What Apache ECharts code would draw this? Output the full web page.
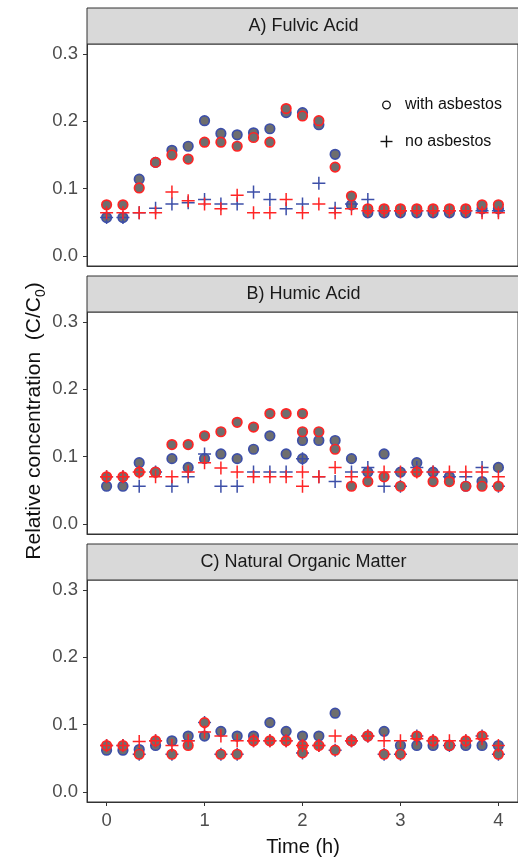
<!DOCTYPE html>
<html>
<head>
<meta charset="utf-8">
<script src="https://cdn.jsdelivr.net/npm/echarts@6/dist/echarts.min.js"></script>
<style>
  html, body { margin: 0; padding: 0; background: #fff; }
  #chart { width: 518px; height: 858px; }
</style>
</head>
<body>
<div id="chart"></div>
<script>
  // sampling times (h), every 10 min
  const times = [0, 0.167, 0.333, 0.5, 0.667, 0.833, 1, 1.167, 1.333, 1.5, 1.667, 1.833, 2,
    2.167, 2.333, 2.5, 2.667, 2.833, 3, 3.167, 3.333, 3.5, 3.667, 3.833, 4]
  const yTicks = [0, 0.1, 0.2, 0.3]
  const xTicks = [0, 1, 2, 3, 4]
  const panelTitles = ['A) Fulvic Acid', 'B) Humic Acid', 'C) Natural Organic Matter']

  // A) Fulvic acid
  const fulvicWithRed = [0.076, 0.076, 0.101, 0.139, 0.150, 0.144, 0.169, 0.169, 0.163, 0.176, 0.169, 0.219, 0.208,
    0.201, 0.132, 0.089, 0.070, 0.070, 0.070, 0.070, 0.070, 0.070, 0.070, 0.076, 0.076]
  const fulvicWithBlue = [0.057, 0.057, 0.114, 0.139, 0.157, 0.163, 0.201, 0.182, 0.180, 0.183, 0.189, 0.213, 0.213,
    0.195, 0.151, 0.076, 0.064, 0.064, 0.064, 0.064, 0.064, 0.064, 0.064, 0.070, 0.070]
  const fulvicNoRed = [0.064, 0.064, 0.064, 0.064, 0.095, 0.082, 0.077, 0.070, 0.090, 0.064, 0.064, 0.084, 0.064,
    0.077, 0.064, 0.070, 0.067, 0.067, 0.067, 0.067, 0.067, 0.067, 0.067, 0.064, 0.064]
  const fulvicNoBlue = [0.057, 0.057, 0.064, 0.071, 0.077, 0.079, 0.084, 0.077, 0.077, 0.095, 0.084, 0.070, 0.077,
    0.108, 0.071, 0.077, 0.084, 0.067, 0.067, 0.067, 0.067, 0.067, 0.067, 0.067, 0.067]

  // B) Humic acid
  const humicWithRed = [0.070, 0.070, 0.077, 0.077, 0.118, 0.118, 0.131, 0.137, 0.151, 0.144, 0.164, 0.164, 0.164,
    0.137, 0.111, 0.056, 0.063, 0.070, 0.056, 0.077, 0.063, 0.063, 0.056, 0.056, 0.056]
  const humicWithBlue = [0.056, 0.056, 0.091, 0.077, 0.097, 0.084, 0.097, 0.104, 0.097, 0.111, 0.131, 0.104, 0.124,
    0.124, 0.124, 0.097, 0.077, 0.104, 0.077, 0.091, 0.077, 0.070, 0.056, 0.063, 0.084]
  const humicNoRed = [0.070, 0.070, 0.077, 0.070, 0.070, 0.077, 0.091, 0.083, 0.077, 0.070, 0.070, 0.070, 0.077,
    0.070, 0.084, 0.070, 0.077, 0.077, 0.077, 0.077, 0.077, 0.077, 0.077, 0.077, 0.070]
  const humicNoBlue = [0.070, 0.070, 0.056, 0.077, 0.056, 0.070, 0.104, 0.056, 0.056, 0.077, 0.077, 0.077, 0.097,
    0.070, 0.063, 0.077, 0.084, 0.056, 0.056, 0.084, 0.077, 0.070, 0.070, 0.084, 0.056]
  // second reading at t = 2 h
  const humicExtraWithRed = [[2, 0.137]]
  const humicExtraWithBlue = [[2, 0.097]]
  const humicExtraNoRed = [[2, 0.056]]

  // C) Natural organic matter
  const nomWithRed = [0.069, 0.069, 0.056, 0.076, 0.056, 0.069, 0.103, 0.056, 0.056, 0.076, 0.076, 0.076, 0.069,
    0.069, 0.062, 0.076, 0.083, 0.056, 0.056, 0.083, 0.076, 0.069, 0.076, 0.083, 0.056]
  const nomWithBlue = [0.062, 0.062, 0.063, 0.069, 0.076, 0.083, 0.083, 0.090, 0.083, 0.083, 0.103, 0.090, 0.083,
    0.083, 0.117, 0.076, 0.083, 0.090, 0.069, 0.069, 0.069, 0.069, 0.069, 0.069, 0.069]
  const nomNoRed = [0.069, 0.069, 0.075, 0.076, 0.069, 0.076, 0.089, 0.083, 0.076, 0.076, 0.076, 0.076, 0.069,
    0.069, 0.083, 0.076, 0.083, 0.076, 0.076, 0.079, 0.076, 0.076, 0.076, 0.079, 0.069]
  const nomNoBlue = [0.069, 0.069, 0.056, 0.076, 0.056, 0.076, 0.103, 0.056, 0.056, 0.076, 0.076, 0.076, 0.058,
    0.069, 0.062, 0.076, 0.083, 0.056, 0.056, 0.083, 0.076, 0.069, 0.076, 0.083, 0.056]
  const nomExtraWithRed = [[2, 0.058]]

  const RED = '#ff2424'
  const BLUE = '#3d4fa8'
  const FILL = '#6e6e6e'
  const FONT = 'Liberation Sans, Arial, sans-serif'
  const CROSS = 'path://M0,-1L0,1M-1,0L1,0'

  // panel tops (plot area) and strip boxes
  const gridTops = [44, 312, 580]
  const gridH = 222
  const stripH = 36
  const gridLeft = 87
  const gridW = 433

  function pts(vals, extra) {
    const d = times.map((t, i) => [t, vals[i]])
    return extra ? d.concat(extra) : d
  }

  function circleSeries(idx, data, color) {
    return {
      type: 'scatter', xAxisIndex: idx, yAxisIndex: idx,
      symbol: 'circle', symbolSize: 9.5,
      itemStyle: { color: FILL, borderColor: color, borderWidth: 1.7, opacity: 1 },
      data: data
    }
  }
  function crossSeries(idx, data, color) {
    return {
      type: 'scatter', xAxisIndex: idx, yAxisIndex: idx,
      symbol: CROSS, symbolSize: 13,
      itemStyle: { color: 'none', borderColor: color, borderWidth: 1.5, opacity: 1 },
      data: data
    }
  }

  const panels = [
    [pts(fulvicWithBlue), pts(fulvicNoBlue), pts(fulvicWithRed), pts(fulvicNoRed)],
    [pts(humicWithBlue, humicExtraWithBlue), pts(humicNoBlue), pts(humicWithRed, humicExtraWithRed), pts(humicNoRed, humicExtraNoRed)],
    [pts(nomWithBlue), pts(nomNoBlue), pts(nomWithRed, nomExtraWithRed), pts(nomNoRed)]
  ]

  const grid = [], xAxis = [], yAxis = [], series = [], graphic = []
  panels.forEach((p, i) => {
    const last = i === panels.length - 1
    grid.push({ left: gridLeft, top: gridTops[i], width: gridW, height: gridH,
      show: true, borderColor: '#333', borderWidth: 1, backgroundColor: '#fff' })
    xAxis.push({
      type: 'value', gridIndex: i, min: -0.2, max: 4.2,
      axisLine: { show: true, onZero: false, lineStyle: { color: '#333', width: 1 } },
      axisTick: { show: last, length: 4, lineStyle: { color: '#333' }, customValues: xTicks },
      axisLabel: { show: last, margin: 9, fontSize: 18.5, color: '#4d4d4d', fontFamily: FONT, customValues: xTicks },
      splitLine: { show: false }
    })
    yAxis.push({
      type: 'value', gridIndex: i, min: -0.015, max: 0.315,
      axisLine: { show: true, onZero: false, lineStyle: { color: '#333', width: 1 } },
      axisTick: { show: true, length: 4, lineStyle: { color: '#333' }, customValues: yTicks },
      axisLabel: { margin: 9, fontSize: 18.5, color: '#4d4d4d', fontFamily: FONT,
        formatter: v => v.toFixed(1), customValues: yTicks },
      splitLine: { show: false }
    })
    series.push(circleSeries(i, p[0], BLUE))
    series.push(crossSeries(i, p[1], BLUE))
    series.push(circleSeries(i, p[2], RED))
    series.push(crossSeries(i, p[3], RED))

    // facet strip
    graphic.push({
      type: 'rect', z: 10,
      shape: { x: gridLeft, y: gridTops[i] - stripH, width: gridW, height: stripH },
      style: { fill: '#d9d9d9', stroke: '#333', lineWidth: 1 }
    })
    graphic.push({
      type: 'text', z: 11, x: gridLeft + gridW / 2, y: gridTops[i] - stripH / 2,
      style: { text: panelTitles[i], fontSize: 18, fontFamily: FONT, fill: '#1a1a1a',
        align: 'center', verticalAlign: 'middle' }
    })
  })

  // legend (shape only)
  graphic.push({ type: 'circle', z: 12, shape: { cx: 386.5, cy: 105, r: 3.8 },
    style: { fill: 'none', stroke: '#111', lineWidth: 1.3 } })
  graphic.push({ type: 'text', z: 12, x: 405, y: 105,
    style: { text: 'with asbestos', fontSize: 16, fontFamily: FONT, fill: '#111', verticalAlign: 'middle' } })
  graphic.push({ type: 'polyline', z: 12, shape: { points: [[380.5, 141.5], [392.5, 141.5]] },
    style: { stroke: '#111', lineWidth: 1.4 } })
  graphic.push({ type: 'polyline', z: 12, shape: { points: [[386.5, 135.5], [386.5, 147.5]] },
    style: { stroke: '#111', lineWidth: 1.4 } })
  graphic.push({ type: 'text', z: 12, x: 405, y: 141.5,
    style: { text: 'no asbestos', fontSize: 16, fontFamily: FONT, fill: '#111', verticalAlign: 'middle' } })

  // axis titles
  graphic.push({ type: 'text', z: 12, x: 303, y: 847,
    style: { text: 'Time (h)', fontSize: 20, fontFamily: FONT, fill: '#111', align: 'center', verticalAlign: 'middle' } })
  graphic.push({ type: 'text', z: 12, x: 32, y: 421, rotation: Math.PI / 2,
    style: {
      text: '{a|Relative concentration  (C/C}{s|0}{a|)}',
      align: 'center', verticalAlign: 'middle', fill: '#111',
      rich: {
        a: { fontSize: 21, fontFamily: FONT, fill: '#111', lineHeight: 26, verticalAlign: 'bottom' },
        s: { fontSize: 14, fontFamily: FONT, fill: '#111', lineHeight: 26, verticalAlign: 'bottom', padding: [0, 0, -3, 0] }
      }
    } })

  const chart = echarts.init(document.getElementById('chart'))
  chart.setOption({
    animation: false,
    backgroundColor: '#fff',
    grid: grid,
    xAxis: xAxis,
    yAxis: yAxis,
    series: series,
    graphic: graphic
  })
</script>
</body>
</html>
